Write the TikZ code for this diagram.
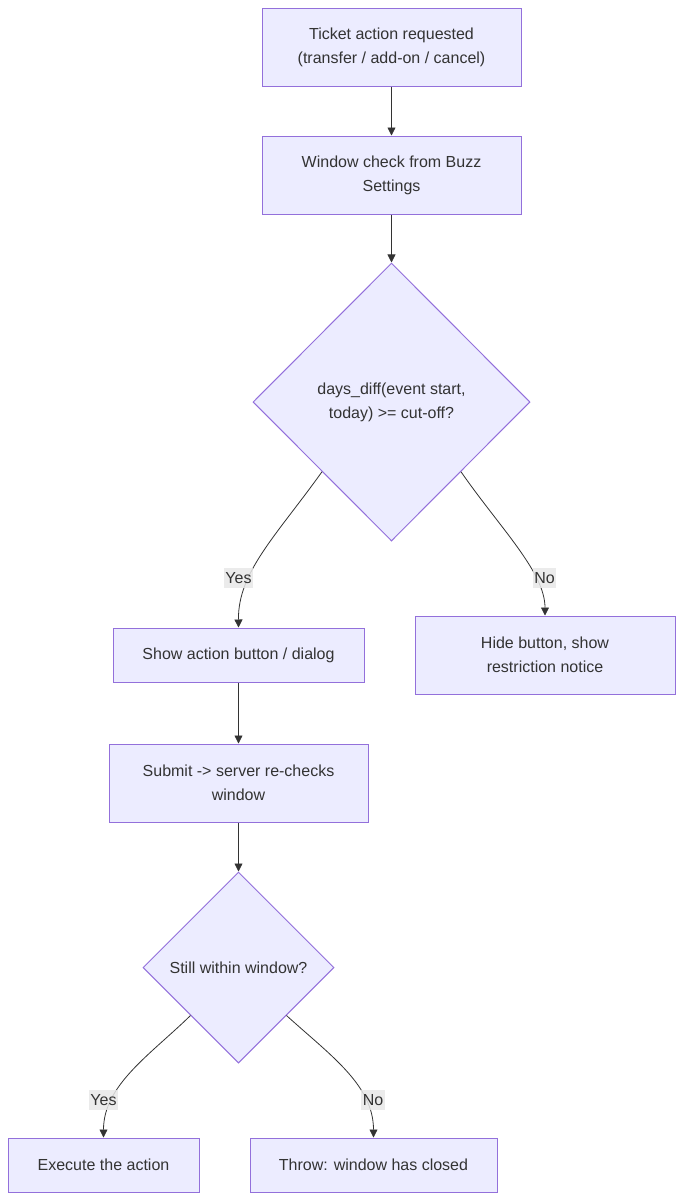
\documentclass[tikz,border=0pt]{standalone}
\usepackage{fontspec}
\setmainfont{Liberation Sans}
\usetikzlibrary{positioning,arrows.meta,shapes.geometric}
\definecolor{boxfill}{HTML}{ECECFF}
\definecolor{boxline}{HTML}{9370DB}
\definecolor{inkgray}{HTML}{333333}
\definecolor{labelbg}{HTML}{E8E8E8}
\tikzset{
  flowbox/.style={draw=boxline, fill=boxfill, line width=0.75pt, align=center,
    font=\fontsize{12}{18}\selectfont, text=inkgray, inner sep=0pt},
  flowdec/.style={flowbox, diamond, aspect=1},
  flowarrow/.style={-{Triangle[length=6pt,width=6pt]}, draw=inkgray, line width=0.6pt},
  flowlabel/.style={fill=labelbg, fill opacity=0.85, text opacity=1, text=inkgray,
    font=\fontsize{12}{14}\selectfont, inner xsep=1pt, inner ysep=3pt},
}

\begin{document}
\begin{tikzpicture}[x=0.75pt, y=-0.75pt]
  \useasboundingbox (0,0) rectangle (683,1200);
  % top part
  \node[flowbox, minimum width=259*0.75pt, minimum height=78*0.75pt] (req) at (391.5,47)
    {Ticket action requested\\(transfer / add-on / cancel)};
  \node[flowbox, minimum width=259*0.75pt, minimum height=78*0.75pt] (win) at (391.5,175)
    {Window check from Buzz\\Settings};
  \node[flowdec, minimum width=277*0.75pt, minimum height=278*0.75pt] (cut) at (391.5,402)
    {days\_diff(event start,\\today) >= cut-off?};
  \draw[flowarrow] (req) -- (win);
  \draw[flowarrow] (win) -- (cut);
  % branches
  \node[flowbox, minimum width=251*0.75pt, minimum height=54*0.75pt] (show) at (238.5,655)
    {Show action button / dialog};
  \node[flowbox, minimum width=260*0.75pt, minimum height=78*0.75pt] (hide) at (545,655)
    {Hide button, show\\restriction notice};
  \draw[flowarrow] (cut.south west) .. controls (276,536) and (238,572) .. (show.north);
  \draw[flowarrow] (cut.south east) .. controls (500,528) and (545,572) .. (hide.north);
  \node[flowlabel] (yes1) at (238.5,578) {Yes};
  \node[flowlabel] (no1) at (544.5,578) {No};
  % server side
  \node[flowbox, minimum width=259*0.75pt, minimum height=78*0.75pt] (submit) at (238.5,783)
    {Submit -> server re-checks\\window};
  \node[flowdec, minimum width=191*0.75pt, minimum height=191*0.75pt] (still) at (238.5,967.5)
    {Still within window?};
  \draw[flowarrow] (show) -- (submit);
  \draw[flowarrow] (submit) -- (still);
  \node[flowbox, minimum width=191*0.75pt, minimum height=54*0.75pt] (exec) at (103.5,1165)
    {Execute the action};
  \node[flowbox, minimum width=247*0.75pt, minimum height=54*0.75pt] (throw) at (373.5,1165)
    {Throw: window has closed};
  \draw[flowarrow] (still.south west) .. controls (150,1055) and (103.5,1085) .. (exec.north);
  \draw[flowarrow] (still.south east) .. controls (330,1055) and (373.5,1085) .. (throw.north);
  \node[flowlabel] (yes2) at (103.5,1100) {Yes};
  \node[flowlabel] (no2) at (373,1100) {No};
\end{tikzpicture}
\end{document}
